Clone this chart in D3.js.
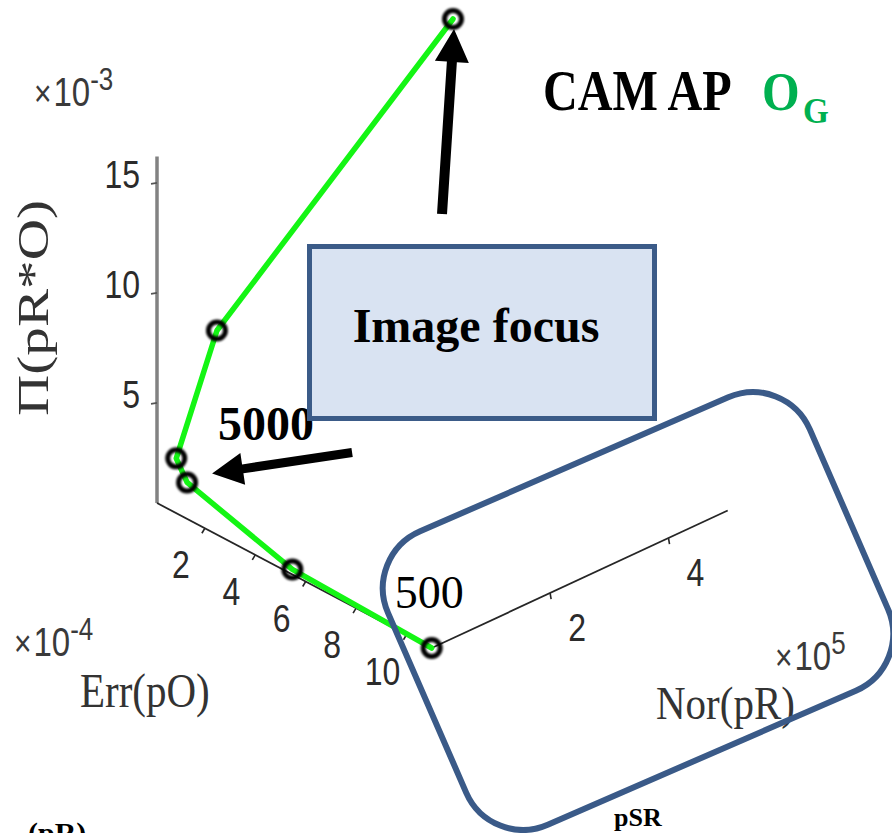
<!DOCTYPE html>
<html>
<head>
<meta charset="utf-8">
<script src="https://cdn.jsdelivr.net/npm/d3@7"></script>
<style>
  html, body { margin: 0; padding: 0; background: #fff; }
  svg { display: block; }
</style>
</head>
<body>
<svg id="chart" width="892" height="833"></svg>
<script>
// Error of pO (x 1e-4), norm of pR (x 1e5), Π(pR*O) (x 1e-3), one entry per sample size
const errValues = [11.0, 5.4, 1.2, 0.3, 0.2, 0.1];
const norValues = [0.0, 0.03, 0.04, 0.24, 0.97, 5.0];
const piValues  = [0.45, 0.6, 2.0, 2.3, 7.14, 16.2];

// axis limits and tick labels
const errDomain = [0.1, 11];
const norDomain = [0, 5];
const piDomain  = [0.45, 16.2];
const errTicks = [2, 4, 6, 8, 10];
const norTicks = [2, 4];
const piTicks  = [5, 10, 15];

// sample-size annotations: index of the point and its label
const sizeLabels = [{ i: 0, text: "500" }, { i: 2, text: "5000" }];

const svg = d3.select("#chart");
const serif = "'Liberation Serif', 'Times New Roman', serif";
const sans = "'Liberation Sans', Arial, Helvetica, sans-serif";

// --- 3-D box projected onto the page -------------------------------------
const origin = [157, 503];                       // corner (min err, min nor, min Π)
const uErr = [0.8844, 0.4669];                   // screen direction of the err axis
const uNor = [0.9069, -0.4213];                  // screen direction of the nor axis
const uPi  = [0, -1];                            // screen direction of the Π axis
const errScale = d3.scaleLinear().domain(errDomain).range([0, 310.6]);
const norScale = d3.scaleLinear().domain(norDomain).range([0, 326.4]);
const piScale  = d3.scaleLinear().domain(piDomain).range([0, 346.5]);

function project(e, n, z) {
  const a = errScale(e), b = norScale(n), c = piScale(z);
  return [origin[0] + a * uErr[0] + b * uNor[0] + c * uPi[0],
          origin[1] + a * uErr[1] + b * uNor[1] + c * uPi[1]];
}

const axisG = svg.append("g");
const [eMin, eMax] = errDomain, [nMin, nMax] = norDomain, [zMin, zMax] = piDomain;

// Π axis (vertical, grey)
const zA = project(eMin, nMin, zMin), zB = project(eMin, nMin, zMax);
axisG.append("line").attr("x1", zA[0]).attr("y1", zA[1]).attr("x2", zB[0]).attr("y2", zB[1])
  .attr("stroke", "#828282").attr("stroke-width", 3.5);
// err axis
const eB = project(eMax, nMin, zMin);
axisG.append("line").attr("x1", zA[0]).attr("y1", zA[1]).attr("x2", eB[0]).attr("y2", eB[1])
  .attr("stroke", "#262626").attr("stroke-width", 1.8);
// nor axis
const nB = project(eMax, nMax, zMin);
axisG.append("line").attr("x1", eB[0]).attr("y1", eB[1]).attr("x2", nB[0]).attr("y2", nB[1])
  .attr("stroke", "#262626").attr("stroke-width", 1.8);

// text helper: the plot's text is stretched vertically
function label(g, x, y, str, o) {
  return g.append("text")
    .attr("transform", `translate(${x},${y}) scale(${o.sx || 1},${o.sy || 1})`)
    .attr("font-family", o.family || sans)
    .attr("font-size", o.size)
    .attr("font-weight", o.weight || "normal")
    .attr("fill", o.fill || "#2b2b2b")
    .attr("text-anchor", o.anchor || "start")
    .attr("dy", o.dy || 0)
    .text(str);
}

// Π ticks
piTicks.forEach(v => {
  const p = project(eMin, nMin, v);
  axisG.append("line").attr("x1", p[0]).attr("y1", p[1]).attr("x2", p[0] - 6).attr("y2", p[1] + 1)
    .attr("stroke", "#555").attr("stroke-width", 1.8);
  label(axisG, p[0] - 17, p[1] - 9, v, { size: 32, sy: 1.22, anchor: "end", dy: "0.36em" });
});
// err ticks
errTicks.forEach(v => {
  const p = project(v, nMin, zMin);
  axisG.append("line").attr("x1", p[0]).attr("y1", p[1]).attr("x2", p[0] - 3).attr("y2", p[1] + 5)
    .attr("stroke", "#262626").attr("stroke-width", 1.6);
  label(axisG, p[0] - 24, p[1] + 36, v, { size: 32, sy: 1.22, anchor: "middle", dy: "0.36em" });
});
// nor ticks
norTicks.forEach(v => {
  const p = project(eMax, v, zMin);
  axisG.append("line").attr("x1", p[0]).attr("y1", p[1]).attr("x2", p[0] + 1).attr("y2", p[1] + 6)
    .attr("stroke", "#262626").attr("stroke-width", 1.6);
  label(axisG, p[0] + 27, p[1] + 34, v, { size: 32, sy: 1.22, anchor: "middle", dy: "0.36em" });
});

// exponent labels
function exponent(g, x, y, base, exp) {
  const t = g.append("text")
    .attr("transform", `translate(${x},${y}) scale(1,1.22)`)
    .attr("font-family", sans).attr("fill", "#3a3a3a");
  t.append("tspan").attr("font-size", 30).text("×");
  t.append("tspan").attr("font-size", 33).attr("dx", 2).text(base);
  t.append("tspan").attr("font-size", 26).attr("dy", -13).text(exp);
}
exponent(axisG, 34, 106, "10", "-3");
exponent(axisG, 14, 656, "10", "-4");
exponent(axisG, 775, 670, "10", "5");

// axis titles
label(axisG, 80, 707, "Err(pO)", { family: serif, size: 41, sy: 1.18, fill: "#333" });
label(axisG, 656, 719, "Nor(pR)", { family: serif, size: 41, sy: 1.12, fill: "#333" });
axisG.append("text")
  .attr("transform", "translate(48,308) rotate(-90) scale(1.3,1)")
  .attr("font-family", serif).attr("font-size", 44).attr("fill", "#333")
  .attr("text-anchor", "middle")
  .text("Π(pR*O)");

// --- data line and markers ------------------------------------------------
const pts = errValues.map((e, i) => project(e, norValues[i], piValues[i]));

svg.append("path")
  .attr("d", d3.line()(pts))
  .attr("fill", "none").attr("stroke", "#14f514").attr("stroke-width", 5.5)
  .attr("stroke-linejoin", "round").attr("stroke-linecap", "round");

const defs = svg.append("defs");
defs.append("filter").attr("id", "soft")
  .append("feGaussianBlur").attr("stdDeviation", 0.8);

svg.append("g").attr("filter", "url(#soft)")
  .selectAll("circle").data(pts).join("circle")
  .attr("cx", d => d[0]).attr("cy", d => d[1]).attr("r", 8.5)
  .attr("fill", "none").attr("stroke", "#000").attr("stroke-width", 5);

// --- annotations ----------------------------------------------------------
function arrow(tail, tip, shaft, headHalf, headLen) {
  const dx = tip[0] - tail[0], dy = tip[1] - tail[1];
  const L = Math.hypot(dx, dy), ux = dx / L, uy = dy / L, px = -uy, py = ux;
  const bx = tip[0] - ux * headLen, by = tip[1] - uy * headLen;
  const s = shaft / 2;
  const poly = [
    [tail[0] + px * s, tail[1] + py * s], [bx + px * s, by + py * s],
    [bx + px * headHalf, by + py * headHalf], tip,
    [bx - px * headHalf, by - py * headHalf], [bx - px * s, by - py * s],
    [tail[0] - px * s, tail[1] - py * s]
  ];
  svg.append("path").attr("d", d3.line()(poly) + "Z").attr("fill", "#000");
}
const peak = pts[pts.length - 1];
arrow([peak[0] - 11, peak[1] + 195], [peak[0] + 1, peak[1] + 10], 10, 17, 33);
const p5000 = pts[sizeLabels[1].i];
arrow([p5000[0] + 165, p5000[1] - 30], [p5000[0] + 25, p5000[1] - 9], 9, 16, 31);

// sample-size labels
const p500 = pts[sizeLabels[0].i];
svg.append("text").attr("x", p500[0] - 37).attr("y", p500[1] - 40)
  .attr("font-family", serif).attr("font-size", 46).attr("fill", "#000")
  .text(sizeLabels[0].text);
svg.append("text").attr("x", p5000[0] + 31).attr("y", p5000[1] - 42)
  .attr("font-family", serif).attr("font-size", 48).attr("font-weight", "bold").attr("fill", "#000")
  .text(sizeLabels[1].text);

// title
svg.append("text")
  .attr("transform", "translate(543,110) scale(0.86,1)")
  .attr("font-family", serif).attr("font-weight", "bold").attr("font-size", 56).attr("fill", "#000")
  .text("CAM AP");
svg.append("text")
  .attr("transform", "translate(762,110) scale(0.88,1)")
  .attr("font-family", serif).attr("font-weight", "bold").attr("font-size", 55).attr("fill", "#00b050")
  .text("O");
svg.append("text")
  .attr("transform", "translate(803,123) scale(0.95,1)")
  .attr("font-family", serif).attr("font-weight", "bold").attr("font-size", 35).attr("fill", "#00b050")
  .text("G");

// "Image focus" box
svg.append("rect").attr("x", 309.5).attr("y", 246.5).attr("width", 345).attr("height", 172)
  .attr("fill", "#d9e3f2").attr("stroke", "#3b5b88").attr("stroke-width", 5);
svg.append("text").attr("x", 476).attr("y", 342).attr("text-anchor", "middle")
  .attr("font-family", serif).attr("font-weight", "bold").attr("font-size", 48).attr("fill", "#000")
  .text("Image focus");

// highlight frame around the nor axis
svg.append("rect")
  .attr("transform", "translate(638,611) rotate(-23.5)")
  .attr("x", -230).attr("y", -160).attr("width", 460).attr("height", 320)
  .attr("rx", 62).attr("ry", 62)
  .attr("fill", "none").attr("stroke", "#3a5a88").attr("stroke-width", 6);

// captions at the lower edge
svg.append("text").attr("x", 614).attr("y", 826)
  .attr("font-family", serif).attr("font-weight", "bold").attr("font-size", 26).attr("fill", "#000")
  .text("pSR");
svg.append("text").attr("x", 28).attr("y", 843)
  .attr("font-family", serif).attr("font-weight", "bold").attr("font-size", 30).attr("fill", "#000")
  .text("(pR)");
</script>
</body>
</html>
